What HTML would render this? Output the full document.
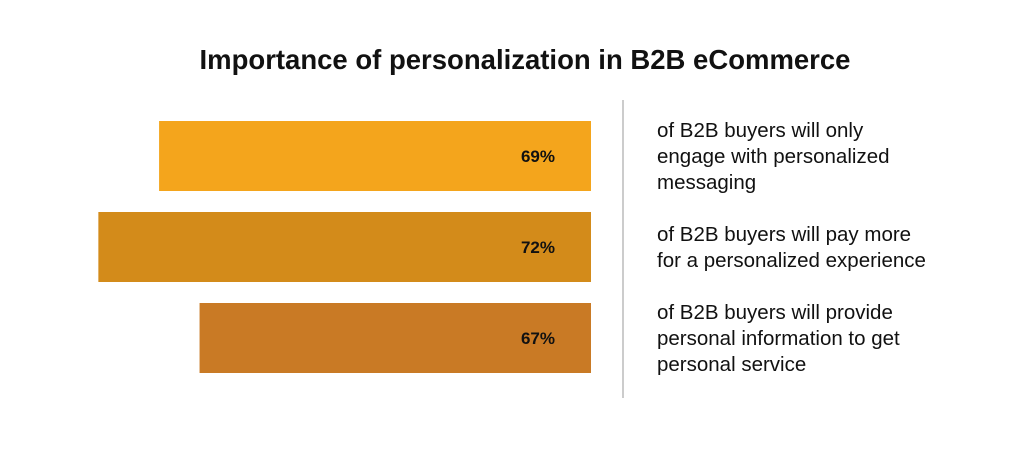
<!DOCTYPE html>
<html><head><meta charset="utf-8"><style>
body{margin:0;background:#fff;width:1024px;height:459px;overflow:hidden;font-family:"Liberation Sans",sans-serif;}
</style></head><body>
<svg width="1024" height="459">
<text x="525" y="69" text-anchor="middle" font-size="27.5" font-weight="bold" fill="#111">Importance of personalization in B2B eCommerce</text>
<line x1="623" y1="100" x2="623" y2="398" stroke="#ccc" stroke-width="2"/>
<g id="bars"></g>
</svg>
<script>
const categories=["only engage","pay more","provide info"];
const values=[69,72,67];
const valueLabels=["69%","72%","67%"];
const descriptions=[["of B2B buyers will only","engage with personalized","messaging"],["of B2B buyers will pay more","for a personalized experience"],["of B2B buyers will provide","personal information to get","personal service"]];
const colors=["#F4A51C","#D38B1A","#C97A25"];
const NS="http://www.w3.org/2000/svg";
const g=document.getElementById('bars');
const right=591,k=20.24,base=47.66;
function w(v){return (v-base)*k;}
function y(i){return 121+i*91;}
values.forEach((v,i)=>{
  const r=document.createElementNS(NS,'rect');
  r.setAttribute('x',right-w(v));r.setAttribute('y',y(i));r.setAttribute('width',w(v));r.setAttribute('height',70);r.setAttribute('fill',colors[i]);
  
  
  g.appendChild(r);
  const t=document.createElementNS(NS,'text');
  t.setAttribute('x',555);t.setAttribute('y',y(i)+41);t.setAttribute('text-anchor','end');t.setAttribute('font-size','17');t.setAttribute('font-weight','bold');t.setAttribute('fill','#111');
  t.textContent=valueLabels[i];
  
  
  g.appendChild(t);
  const lines=descriptions[i];
  const startY=y(i)+35-(lines.length-1)*13+7;
  lines.forEach((ln,j)=>{
    const d=document.createElementNS(NS,'text');
    d.setAttribute('x',657);d.setAttribute('y',startY+j*26);d.setAttribute('font-size','20.5');d.setAttribute('fill','#111');
    d.textContent=ln;
    
    
    g.appendChild(d);
  });
});
</script>
</body></html>
